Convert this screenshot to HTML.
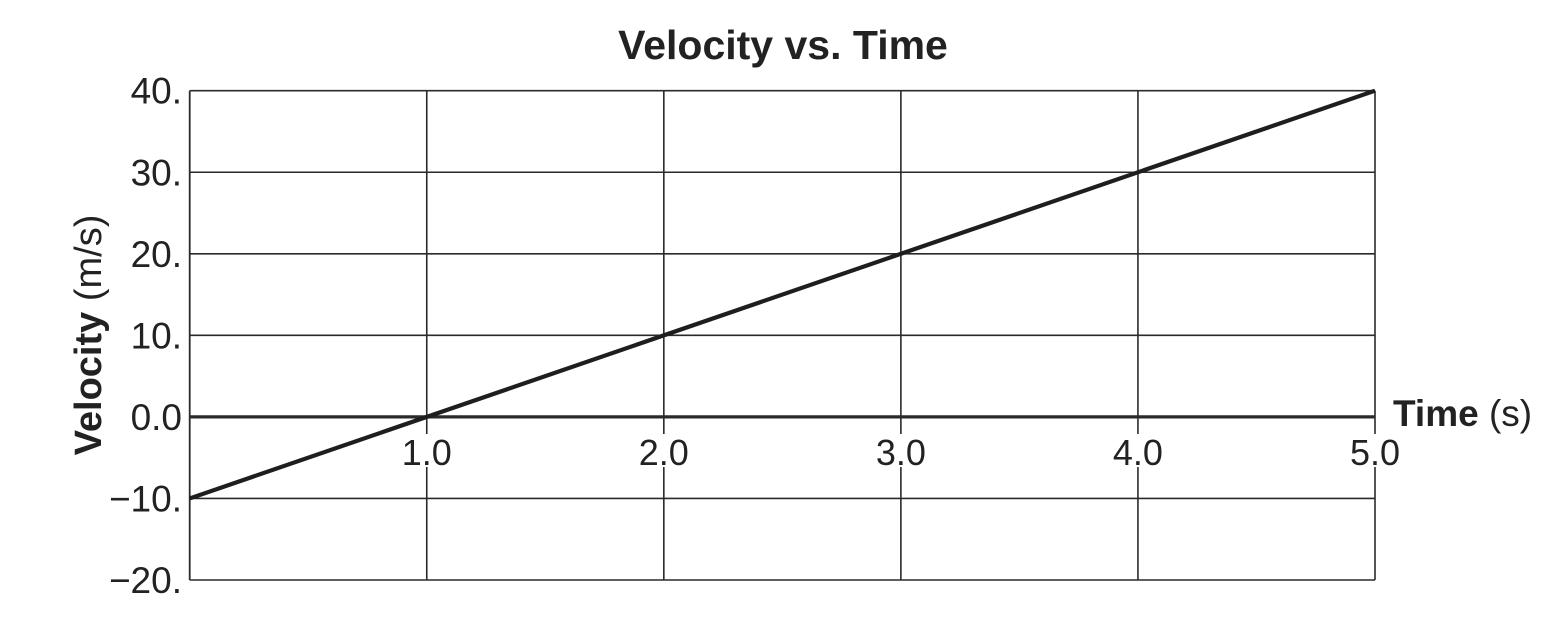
<!DOCTYPE html>
<html><head><meta charset="utf-8"><style>
html,body{margin:0;padding:0;background:#fff;}
svg{display:block;font-family:"Liberation Sans",Arial,sans-serif;}
</style></head><body>
<svg id="chart" width="1562" height="639" viewBox="0 0 1562 639" xmlns="http://www.w3.org/2000/svg">
<text x="783" y="59" text-anchor="middle" font-size="41" font-weight="bold" fill="#222">Velocity vs. Time</text>
<text transform="translate(101,335) rotate(-90)" text-anchor="middle" font-size="38" fill="#222"><tspan font-weight="bold">Velocity</tspan> (m/s)</text>
<text x="1393" y="426" font-size="37" fill="#222"><tspan font-weight="bold">Time</tspan> (s)</text>
<g id="grid"></g>
<g id="labels"></g>
<g id="series"></g>
</svg>
<script>
const xTicks = [1.0, 2.0, 3.0, 4.0, 5.0];
const xTickLabels = ["1.0", "2.0", "3.0", "4.0", "5.0"];
const yTicks = [40, 30, 20, 10, 0, -10, -20];
const yTickLabels = ["40.", "30.", "20.", "10.", "0.0", "\u221210.", "\u221220."];
const timeValues = [0, 5];
const velocityValues = [-10, 40];

const X0 = 189.7, X1 = 1375, Y0 = 580, Y1 = 90.7;
const xMin = 0, xMax = 5, yMin = -20, yMax = 40;
function sx(v){ return X0 + (v - xMin) / (xMax - xMin) * (X1 - X0); }
function sy(v){ return Y0 - (v - yMin) / (yMax - yMin) * (Y0 - Y1); }
const NS = "http://www.w3.org/2000/svg";
function mk(tag, attrs, parent){ const e = document.createElementNS(NS, tag); for (const k in attrs) e.setAttribute(k, attrs[k]); parent.appendChild(e); return e; }
const grid = document.getElementById('grid');
const labels = document.getElementById('labels');
const series = document.getElementById('series');

yTicks.forEach((v, i) => {
  const l = mk('line', {x1: X0, x2: X1, y1: sy(v), y2: sy(v), stroke: '#2a2a2a', 'stroke-width': v === 0 ? 3.2 : 1.6}, grid);
  
  
  const t = mk('text', {x: 182, y: sy(v) + 13, 'text-anchor': 'end', 'font-size': 37, fill: '#222'}, labels);
  t.textContent = yTickLabels[i];
  
  
});
const lb = mk('line', {x1: X0, x2: X0, y1: Y1, y2: Y0, stroke: '#2a2a2a', 'stroke-width': 1.8}, grid);


xTicks.forEach((v, i) => {
  const l = mk('line', {x1: sx(v), x2: sx(v), y1: Y1, y2: Y0, stroke: '#2a2a2a', 'stroke-width': 1.6}, grid);
  
  
  const bg = mk('rect', {x: sx(v) - 28, y: 434, width: 56, height: 33, fill: '#fff'}, labels);
  
  
  const t = mk('text', {x: sx(v), y: 465, 'text-anchor': 'middle', 'font-size': 36, fill: '#222'}, labels);
  t.textContent = xTickLabels[i];
  
  
});
const pts = timeValues.map((t, i) => sx(t) + ',' + sy(velocityValues[i])).join(' ');
const pl = mk('polyline', {points: pts, fill: 'none', stroke: '#1e1e1e', 'stroke-width': 4.2}, series);


</script>
</body></html>
